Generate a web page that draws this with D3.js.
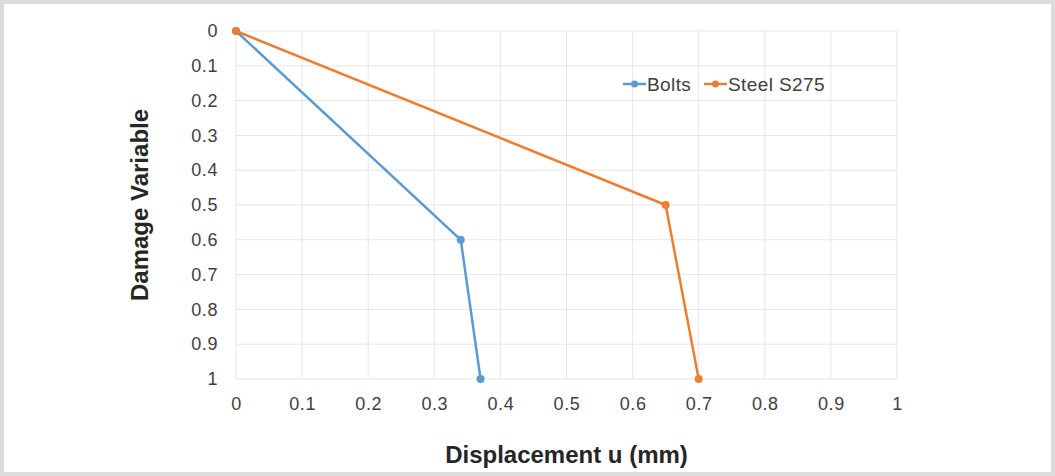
<!DOCTYPE html>
<html>
<head>
<meta charset="utf-8">
<script src="https://cdn.jsdelivr.net/npm/d3@7"></script>
<style>
  body { margin: 0; background: #fff; }
  text { font-family: "Liberation Sans", Arial, sans-serif; }
</style>
</head>
<body>
<script>
var width = 1055,
    height = 476;

// data
var bolts = [[0, 0], [0.34, 0.6], [0.37, 1]];
var steel = [[0, 0], [0.65, 0.5], [0.70, 1]];
var seriesNames = ["Bolts", "Steel S275"];
var seriesColors = ["#5b9bd5", "#ed7d31"];
var ticks = [0, 0.1, 0.2, 0.3, 0.4, 0.5, 0.6, 0.7, 0.8, 0.9, 1];

var svg = d3.select("body").append("svg")
    .attr("width", width)
    .attr("height", height);

// frame
svg.append("rect")
    .attr("x", 2).attr("y", 2)
    .attr("width", width - 4).attr("height", height - 4)
    .attr("fill", "#fff")
    .attr("stroke", "#dcdcdc")
    .attr("stroke-width", 4);

var x = d3.scaleLinear().domain([0, 1]).range([236, 897]);
var y = d3.scaleLinear().domain([0, 1]).range([31, 379]);

// grid
svg.append("g").selectAll("line.h")
    .data(ticks).enter().append("line")
    .attr("x1", x(0)).attr("x2", x(1))
    .attr("y1", function(d) { return y(d); })
    .attr("y2", function(d) { return y(d); })
    .attr("stroke", "#e6e6e6").attr("stroke-width", 1);
svg.append("g").selectAll("line.v")
    .data(ticks).enter().append("line")
    .attr("y1", y(0)).attr("y2", y(1))
    .attr("x1", function(d) { return x(d); })
    .attr("x2", function(d) { return x(d); })
    .attr("stroke", "#e6e6e6").attr("stroke-width", 1);

// axes (labels only)
var fmt = function(d) { return d3.format("")(+d.toFixed(1)); };
var yAxis = svg.append("g")
    .attr("transform", "translate(" + x(0) + ",0)")
    .call(d3.axisLeft(y).tickValues(ticks).tickFormat(fmt).tickSize(0).tickPadding(18));
var xAxis = svg.append("g")
    .attr("transform", "translate(0," + y(1) + ")")
    .call(d3.axisBottom(x).tickValues(ticks).tickFormat(fmt).tickSize(0).tickPadding(18));
[yAxis, xAxis].forEach(function(a) {
  a.select(".domain").remove();
  a.selectAll("text")
    .attr("font-size", 18)
    .attr("letter-spacing", 0.6)
    .attr("fill", "#404040")
    .style("font-family", "'Liberation Sans', Arial, sans-serif");
});

// axis titles
svg.append("text")
    .attr("transform", "translate(148," + ((y(0) + y(1)) / 2) + ") rotate(-90)")
    .attr("text-anchor", "middle")
    .attr("font-size", 24).attr("font-weight", "bold")
    .attr("fill", "#262626")
    .text("Damage Variable");
svg.append("text")
    .attr("x", (x(0) + x(1)) / 2).attr("y", 463)
    .attr("text-anchor", "middle")
    .attr("font-size", 24).attr("font-weight", "bold")
    .attr("fill", "#262626")
    .text("Displacement u (mm)");

// series
var line = d3.line()
    .x(function(d) { return x(d[0]); })
    .y(function(d) { return y(d[1]); });

[bolts, steel].forEach(function(s, i) {
  var g = svg.append("g");
  g.append("path")
      .datum(s)
      .attr("d", line)
      .attr("fill", "none")
      .attr("stroke", seriesColors[i])
      .attr("stroke-width", 2.5);
  g.selectAll("circle")
      .data(s).enter().append("circle")
      .attr("cx", function(d) { return x(d[0]); })
      .attr("cy", function(d) { return y(d[1]); })
      .attr("r", 4)
      .attr("fill", seriesColors[i]);
});

// legend
var legendX = [623, 704];
var legend = svg.append("g");
seriesNames.forEach(function(n, i) {
  var lg = legend.append("g").attr("transform", "translate(" + legendX[i] + ",84)");
  lg.append("line").attr("x1", 0).attr("x2", 23)
      .attr("stroke", seriesColors[i]).attr("stroke-width", 2.5);
  lg.append("circle").attr("cx", 11.5).attr("r", 3.5).attr("fill", seriesColors[i]);
  lg.append("text").attr("x", 24).attr("y", 6.5)
      .attr("font-size", 19).attr("letter-spacing", 0.4)
      .attr("fill", "#404040")
      .text(n);
});
</script>
</body>
</html>
